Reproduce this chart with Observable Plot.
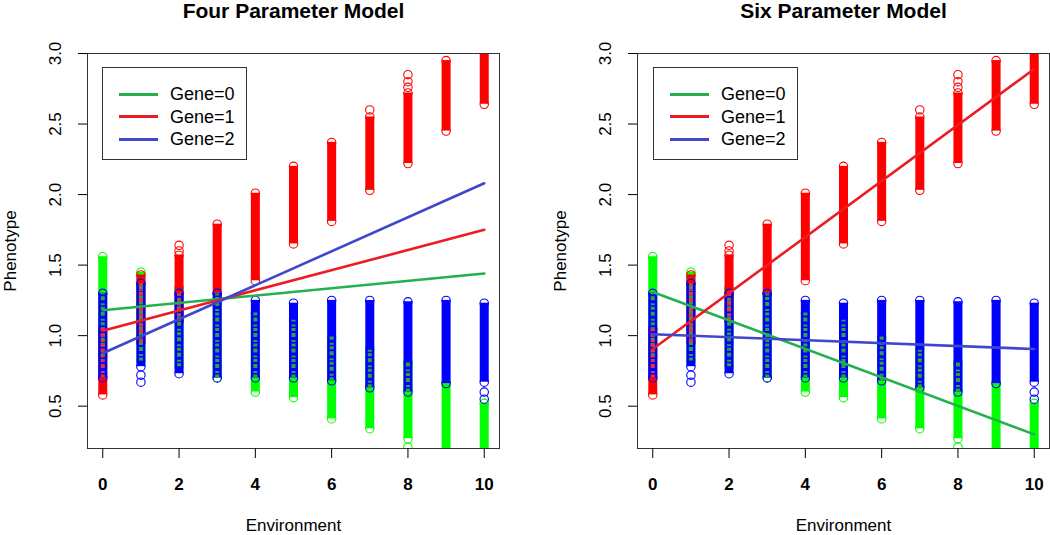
<!DOCTYPE html>
<html>
<head>
<meta charset="utf-8">
<script src="https://cdn.jsdelivr.net/npm/d3@7"></script>
<script src="https://cdn.jsdelivr.net/npm/@observablehq/plot@0.6"></script>
<style>
  html, body { margin: 0; padding: 0; background: #fff; }
  #wrap { position: relative; width: 1050px; height: 535px; overflow: hidden; font-family: "Liberation Sans", Arial, sans-serif; }
  .panel { position: absolute; top: 0; }
  .legend { position: absolute; border: 1px solid #333; background: #fff; box-sizing: border-box; }
  .legend .swatch { position: absolute; height: 3px; }
  .legend .lab { position: absolute; font-size: 18px; line-height: 22px; color: #000; white-space: nowrap; }
</style>
</head>
<body>
<div id="wrap"></div>
<script>
// ---------- data ----------
const environment = [0, 1, 2, 3, 4, 5, 6, 7, 8, 9, 10];
const geneLabels = ["Gene=0", "Gene=1", "Gene=2"];

// vertical extent of each stack of observed phenotypes, per gene and environment
const gene0Low  = [0.85, 0.82, 0.78, 0.70, 0.60, 0.56, 0.41, 0.34, 0.27, 0.05, 0.05];
const gene0High = [1.56, 1.45, 1.34, 1.30, 1.16, 1.11, 0.99, 0.91, 0.81, 0.66, 0.52];
const gene1Low  = [0.58, 0.95, 1.10, 1.30, 1.39, 1.65, 1.81, 2.03, 2.22, 2.45, 2.64];
const gene1High = [1.05, 1.43, 1.57, 1.79, 2.01, 2.20, 2.37, 2.55, 2.72, 2.95, 3.10];
const gene2Low  = [0.70, 0.78, 0.73, 0.70, 0.70, 0.70, 0.68, 0.63, 0.60, 0.66, 0.67];
const gene2High = [1.30, 1.37, 1.30, 1.30, 1.25, 1.23, 1.25, 1.25, 1.24, 1.25, 1.23];

// separated single observations
const outlierEnv   = [1, 1, 2, 2, 7, 8, 8, 8, 8, 10, 10];
const outlierGene  = [2, 2, 1, 1, 1, 1, 1, 1, 0, 2, 2];
const outlierValue = [0.72, 0.67, 1.64, 1.60, 2.60, 2.85, 2.80, 2.76, 0.21, 0.60, 0.55];

// fitted lines: value at environment 0 and 10 for genes 0,1,2
const fitEnvs = [0, 10];
const fourFitStart = [1.18, 1.035, 0.875];
const fourFitEnd   = [1.44, 1.75, 2.08];
const sixFitStart  = [1.31, 0.905, 1.01];
const sixFitEnd    = [0.30, 2.89, 0.905];

const titles = ["Four Parameter Model", "Six Parameter Model"];
const xTicks = [0, 2, 4, 6, 8, 10];
const yTicks = [0.5, 1.0, 1.5, 2.0, 2.5, 3.0];
const xLabel = "Environment";
const yLabel = "Phenotype";

// ---------- styles ----------
const pointColors = ["#00ff00", "#ff0000", "#0000ff"];
const hiddenColors = ["#34a03c", "#f03030"];
const lineColors = ["#22b14c", "#ed1c24", "#3f48cc"];

// ---------- derived tables ----------
const lows = [gene0Low, gene1Low, gene2Low];
const highs = [gene0High, gene1High, gene2High];
const bands = [];
for (let g = 0; g < 3; g++) environment.forEach((e, i) => bands.push({gene: g, env: e, lo: lows[g][i], hi: highs[g][i]}));
const ends = bands.flatMap(b => [{gene: b.gene, env: b.env, v: b.lo}, {gene: b.gene, env: b.env, v: b.hi}]);
const outliers = outlierEnv.map((e, i) => ({gene: outlierGene[i], env: e, v: outlierValue[i]}));
// observations of genes 0 and 1 lying inside the (over-plotted) gene 2 stack
const hidden = [];
for (let g = 0; g < 2; g++) environment.forEach((e, i) => {
  const lo = Math.max(lows[g][i], gene2Low[i]);
  const hi = Math.min(highs[g][i], gene2High[i]);
  if (hi > lo) hidden.push({gene: g, env: e, lo, hi});
});
function fitTable(start, end) {
  const rows = [];
  for (let g = 0; g < 3; g++) {
    rows.push({gene: g, env: fitEnvs[0], v: start[g]});
    rows.push({gene: g, env: fitEnvs[1], v: end[g]});
  }
  return rows;
}
const fits = [fitTable(fourFitStart, fourFitEnd), fitTable(sixFitStart, sixFitEnd)];

// ---------- panels ----------
const wrap = document.getElementById("wrap");
const panelSpecs = [
  {left: 0, marginLeft: 87, marginRight: 26, legendLeft: 102},
  {left: 525, marginLeft: 112, marginRight: 1, legendLeft: 653}
];
const font = "Liberation Sans, Arial, sans-serif";

panelSpecs.forEach((spec, p) => {
  const marks = [];
  for (let g = 0; g < 3; g++) {
    const B = bands.filter(d => d.gene === g);
    const E = ends.filter(d => d.gene === g);
    const O = outliers.filter(d => d.gene === g);
    marks.push(Plot.ruleX(B, {x: "env", y1: "lo", y2: "hi", stroke: pointColors[g], strokeWidth: 9, clip: true}));
    marks.push(Plot.dot(E, {x: "env", y: "v", r: 4.2, stroke: pointColors[g], strokeWidth: 1.1, fill: "none", clip: true}));
    marks.push(Plot.dot(O, {x: "env", y: "v", r: 4.2, stroke: pointColors[g], strokeWidth: 1.1, fill: "none", clip: true}));
  }
  for (let g = 0; g < 2; g++) {
    marks.push(Plot.ruleX(hidden.filter(d => d.gene === g), {x: "env", y1: "lo", y2: "hi", stroke: hiddenColors[g], strokeWidth: 4, strokeDasharray: "3,1.5,2,3,4,2", clip: true}));
  }
  for (let g = 0; g < 3; g++) {
    marks.push(Plot.line(fits[p].filter(d => d.gene === g), {x: "env", y: "v", stroke: lineColors[g], strokeWidth: 2.6}));
  }
  marks.push(Plot.frame({stroke: "#333", strokeWidth: 1}));
  marks.push(Plot.axisX({ticks: xTicks, tickSize: 10, tickPadding: 19, tickFormat: d => String(d), fontSize: 17, fontWeight: "bold", label: null}));
  marks.push(Plot.axisY({ticks: yTicks, tickSize: 9, tickFormat: () => "", label: null}));
  marks.push(Plot.text(yTicks, {frameAnchor: "left", y: d => d, text: d => d.toFixed(1), rotate: -90, dx: -32, fontSize: 17, textAnchor: "middle", lineAnchor: "middle", fill: "#000"}));
  marks.push(Plot.text([yLabel], {frameAnchor: "left", text: d => d, rotate: -90, dx: -77, fontSize: 17, textAnchor: "middle", lineAnchor: "middle", fill: "#000"}));
  marks.push(Plot.text([xLabel], {frameAnchor: "bottom", text: d => d, dy: 77, fontSize: 17, textAnchor: "middle", lineAnchor: "middle", fill: "#000"}));
  marks.push(Plot.text([titles[p]], {frameAnchor: "top", text: d => d, dy: -42.5, fontSize: 21, fontWeight: "bold", textAnchor: "middle", lineAnchor: "middle", fill: "#000"}));

  const chart = Plot.plot({
    width: 525,
    height: 535,
    marginLeft: spec.marginLeft,
    marginRight: spec.marginRight,
    marginTop: 53,
    marginBottom: 87,
    x: {domain: [-0.4, 10.4]},
    y: {domain: [0.2, 3.0]},
    style: {fontFamily: font, color: "#000", background: "transparent", overflow: "visible"},
    marks
  });
  const holder = document.createElement("div");
  holder.className = "panel";
  holder.style.left = spec.left + "px";
  holder.appendChild(chart);
  wrap.appendChild(holder);

  // legend
  const leg = document.createElement("div");
  leg.className = "legend";
  leg.style.left = spec.legendLeft + "px";
  leg.style.top = "67px";
  leg.style.width = "145px";
  leg.style.height = "93px";
  geneLabels.forEach((lab, g) => {
    const cy = 26 + g * 22.5;
    const sw = document.createElement("div");
    sw.className = "swatch";
    sw.style.left = "16px";
    sw.style.width = "39px";
    sw.style.top = (cy - 1.5) + "px";
    sw.style.background = lineColors[g];
    leg.appendChild(sw);
    const t = document.createElement("div");
    t.className = "lab";
    t.style.left = "67px";
    t.style.top = (cy - 11) + "px";
    t.textContent = lab;
    leg.appendChild(t);
  });
  wrap.appendChild(leg);
});
</script>
</body>
</html>
